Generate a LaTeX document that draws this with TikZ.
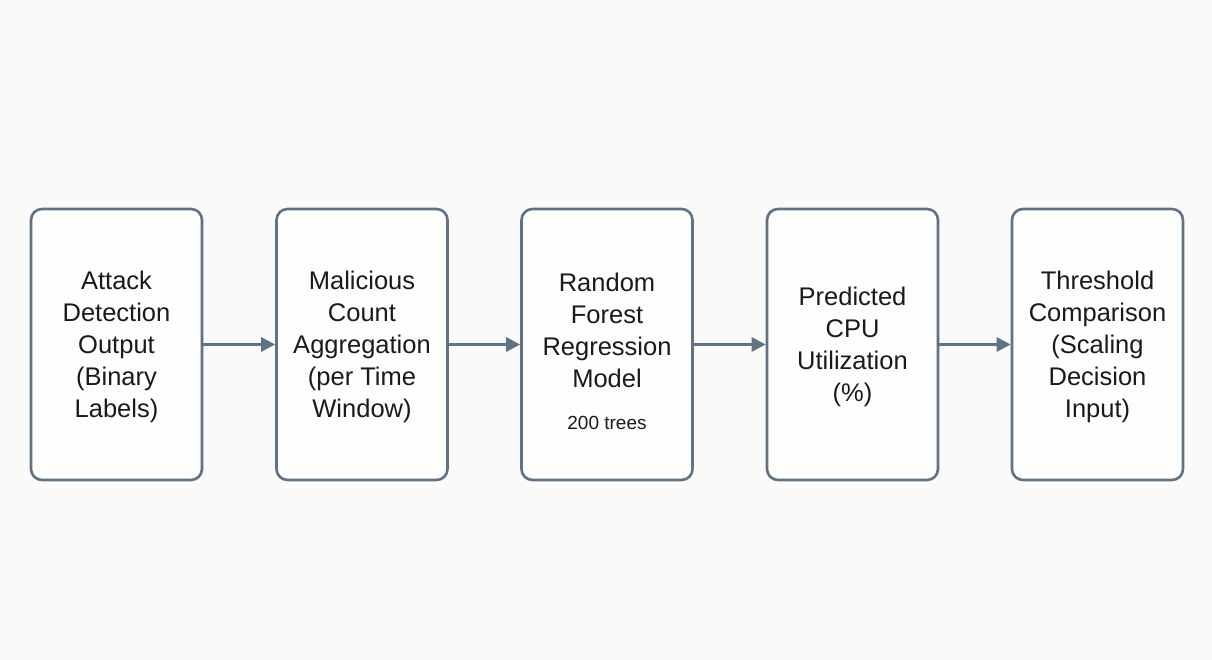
\documentclass[tikz,border=0pt]{standalone}
\usepackage{fontspec}
\setmainfont{Liberation Sans}
\usetikzlibrary{arrows.meta}
\definecolor{bg}{HTML}{FAFAF8}
\definecolor{edge}{HTML}{5E7484}
\definecolor{boxfill}{HTML}{FDFDFC}
\definecolor{ink}{HTML}{1A1A1A}
\tikzset{
  stage/.style={draw=edge, line width=2.6pt, fill=boxfill, rounded corners=11pt,
    minimum width=171pt, minimum height=271pt, inner sep=0pt},
  caption/.style={text=ink, align=center, inner sep=0pt,
    font=\fontsize{25.5}{32}\selectfont},
  note/.style={text=ink, inner sep=0pt, font=\fontsize{19}{22}\selectfont},
  flow/.style={draw=edge, line width=2.8pt, -{Triangle[length=14pt,width=14pt]}}
}
\begin{document}
\begin{tikzpicture}[x=1pt,y=1pt]
  \useasboundingbox[fill=bg] (0,0) rectangle (1212,660);
  % pipeline stages
  \node[stage] (a) at (116.5,315.5) {};
  \node[stage] (b) at (362,315.5) {};
  \node[stage] (c) at (607,315.5) {};
  \node[stage] (d) at (852.5,315.5) {};
  \node[stage] (e) at (1097.5,315.5) {};
  % stage captions
  \node[caption] (at) at ([yshift=-2.5pt]a.center) {Attack\\Detection\\Output\\(Binary\\Labels)};
  \node[caption] (bt) at ([yshift=-2.5pt]b.center) {Malicious\\Count\\Aggregation\\(per Time\\Window)};
  \node[caption] (ct) at ([yshift=14pt]c.center) {Random\\Forest\\Regression\\Model};
  \node[note] (cn) at ([yshift=-78pt]c.center) {200 trees};
  \node[caption] (dt) at ([yshift=-2.5pt]d.center) {Predicted\\CPU\\Utilization\\(\%)};
  \node[caption] (et) at ([yshift=-2.5pt]e.center) {Threshold\\Comparison\\(Scaling\\Decision\\Input)};
  % connectors
  \draw[flow] (a) -- (b);
  \draw[flow] (b) -- (c);
  \draw[flow] (c) -- (d);
  \draw[flow] (d) -- (e);
\end{tikzpicture}
\end{document}
